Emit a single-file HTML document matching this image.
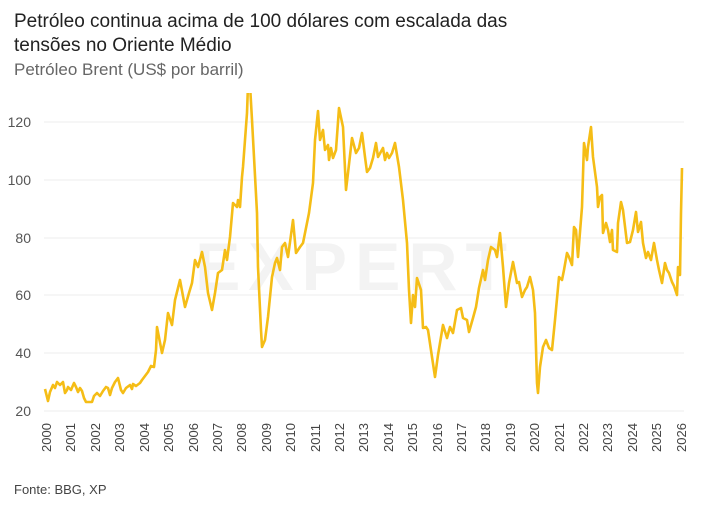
<!DOCTYPE html>
<html><head><meta charset="utf-8"><style>
body{margin:0;background:#fff;width:708px;height:510px;overflow:hidden;font-family:"Liberation Sans",sans-serif}
</style></head><body>
<svg width="708" height="510" xmlns="http://www.w3.org/2000/svg" font-family="Liberation Sans, sans-serif">
<text x="14" y="27" font-size="19" fill="#222">Petróleo continua acima de 100 dólares com escalada das</text>
<text x="14" y="51" font-size="19" fill="#222">tensões no Oriente Médio</text>
<text x="14" y="75" font-size="17" fill="#666">Petróleo Brent (US$ por barril)</text>
<g stroke="#ececec" stroke-width="1">
<line x1="44" x2="684" y1="122" y2="122"/><line x1="44" x2="684" y1="180" y2="180"/>
<line x1="44" x2="684" y1="238" y2="238"/><line x1="44" x2="684" y1="295" y2="295"/>
<line x1="44" x2="684" y1="353" y2="353"/><line x1="44" x2="684" y1="411" y2="411"/>
</g>
<text x="355" y="290" font-size="68" font-weight="bold" fill="#f3f3f3" text-anchor="middle" letter-spacing="8">EXPERT</text>
<g font-size="14" fill="#555" text-anchor="end">
<text x="31" y="127">120</text><text x="31" y="185">100</text><text x="31" y="243">80</text>
<text x="31" y="300">60</text><text x="31" y="358">40</text><text x="31" y="416">20</text>
</g>
<g font-size="13" fill="#444">
<text transform="translate(51,452) rotate(-90)">2000</text>
<text transform="translate(75,452) rotate(-90)">2001</text>
<text transform="translate(100,452) rotate(-90)">2002</text>
<text transform="translate(124,452) rotate(-90)">2003</text>
<text transform="translate(149,452) rotate(-90)">2004</text>
<text transform="translate(173,452) rotate(-90)">2005</text>
<text transform="translate(198,452) rotate(-90)">2006</text>
<text transform="translate(222,452) rotate(-90)">2007</text>
<text transform="translate(246,452) rotate(-90)">2008</text>
<text transform="translate(271,452) rotate(-90)">2009</text>
<text transform="translate(295,452) rotate(-90)">2010</text>
<text transform="translate(320,452) rotate(-90)">2011</text>
<text transform="translate(344,452) rotate(-90)">2012</text>
<text transform="translate(368,452) rotate(-90)">2013</text>
<text transform="translate(393,452) rotate(-90)">2014</text>
<text transform="translate(417,452) rotate(-90)">2015</text>
<text transform="translate(442,452) rotate(-90)">2016</text>
<text transform="translate(466,452) rotate(-90)">2017</text>
<text transform="translate(490,452) rotate(-90)">2018</text>
<text transform="translate(515,452) rotate(-90)">2019</text>
<text transform="translate(539,452) rotate(-90)">2020</text>
<text transform="translate(564,452) rotate(-90)">2021</text>
<text transform="translate(588,452) rotate(-90)">2022</text>
<text transform="translate(612,452) rotate(-90)">2023</text>
<text transform="translate(637,452) rotate(-90)">2024</text>
<text transform="translate(661,452) rotate(-90)">2025</text>
<text transform="translate(686,452) rotate(-90)">2026</text>
</g>
<text x="14" y="494" font-size="13" fill="#444">Fonte: BBG, XP</text>
<clipPath id="c"><rect x="40" y="93" width="660" height="330"/></clipPath>
<polyline clip-path="url(#c)" fill="none" stroke="#f5bd16" stroke-width="2.6" stroke-linejoin="round" points="
45,389 48,401 50,392 53,385 55,388 57,382 60,385 63,382 65,393 67,390 68,387 71,390 74,383 76,387 78,392 80,388 82,391 84,398 86,402 92,402 94,396 97,393 100,396 103,391 106,387 108,388 110,395 112,388 115,382 118,378 121,390 123,393 126,388 130,385 132,389 133,384 136,386 140,383 142,380 145,376 148,372 151,366 154,367 156,350
157,327 162,353 165,340 168,313 172,325 175,300 180,280 185,307 189,293 192,283 195,260 198,267 202,252 205,267 208,293 212,310 215,293 218,273 222,270 225,250 227,260 230,237 233,203 237,207 238,200 240,207 242,177 243,167 247,113 248,85 250,85 252,120 254,157 257,213 258,267 261,330 262,347
265,340 268,317 272,277 275,263 277,258 280,270 282,247 285,243 288,257 293,220 296,253 300,247 303,243 307,223 309,213 313,183 315,140 318,111 320,140 323,130 325,150 328,145 329,160 331,148 333,158 336,150 339,108 343,127 346,190 348,173 352,138 356,153 359,148 362,133 365,157 367,172 370,168 373,158 376,143 378,157 383,148 385,160 387,153 389,158 392,153 395,143 399,167 403,200 407,243 409,290 411,323 413,295 415,307 417,278 421,290 423,328 426,327 428,330 432,357 435,377 438,355 443,325 447,338 450,327
453,333 457,310 461,308 463,318 467,320 469,332 473,318 476,307 479,288 483,270 485,280 488,260 491,247 495,250 497,257 500,233 503,267 506,307 509,283 513,262 517,283 519,282 522,297 525,290 527,287 530,277 533,290 535,313 537,383 538,393 540,367 543,347 546,340 549,348 552,350 555,320 559,277 562,280 564,270 567,253 569,257 572,265 574,227 576,230 578,257 582,207 584,143 587,160 588,147 591,127 593,157 597,187 598,207 600,197 602,195 603,233 606,223 608,230 610,242 612,230 613,250 617,252 618,223 621,202 623,210 627,243 630,242 633,230 636,212 638,232 641,222 643,243 646,258 648,252 651,260 654,243 657,260 659,270 662,283 665,263 667,270 669,273 672,282 674,286 677,295 678,267 680,275 681,213 682,168" />
</svg>
</body></html>
